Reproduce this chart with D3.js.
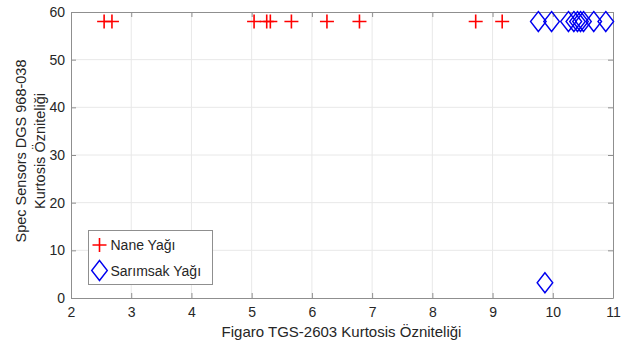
<!DOCTYPE html>
<html>
<head>
<meta charset="utf-8">
<script src="https://cdn.jsdelivr.net/npm/d3@7"></script>
<style>
  body { margin: 0; background: #fff; }
  svg text { font-family: "Liberation Sans", Arial, sans-serif; fill: #262626; }
</style>
</head>
<body>
<div id="chart"></div>
<script>
// Nane Yağı (peppermint) points
const naneX = [2.55, 2.68, 5.04, 5.25, 5.31, 5.66, 6.25, 6.79, 8.72, 9.16];
const naneY = [58, 58, 58, 58, 58, 58, 58, 58, 58, 58];
// Sarımsak Yağı (garlic) points
const sarimsakX = [9.76, 9.98, 10.26, 10.35, 10.41, 10.46, 10.51, 10.68, 10.88, 9.87];
const sarimsakY = [58, 58, 58, 58, 58, 58, 58, 58, 58, 3.2];

const xTicks = [2, 3, 4, 5, 6, 7, 8, 9, 10, 11];
const yTicks = [0, 10, 20, 30, 40, 50, 60];

const width = 637, height = 350;
const margin = { left: 71, right: 24, top: 12, bottom: 52 };

const svg = d3.select("#chart").append("svg")
    .attr("width", width)
    .attr("height", height);

const x = d3.scaleLinear().domain([2, 11]).range([margin.left, width - margin.right]);
const y = d3.scaleLinear().domain([0, 60]).range([height - margin.bottom, margin.top]);

const x0 = x.range()[0], x1 = x.range()[1];
const y0 = y.range()[0], y1 = y.range()[1];

// grid lines
svg.append("g").selectAll("line.gx")
    .data(xTicks.slice(1, -1))
    .enter().append("line")
    .attr("x1", d => x(d)).attr("x2", d => x(d))
    .attr("y1", y0).attr("y2", y1)
    .attr("stroke", "#e8e8e8").attr("stroke-width", 1);

svg.append("g").selectAll("line.gy")
    .data(yTicks.slice(1, -1))
    .enter().append("line")
    .attr("x1", x0).attr("x2", x1)
    .attr("y1", d => y(d)).attr("y2", d => y(d))
    .attr("stroke", "#e8e8e8").attr("stroke-width", 1);

// axes (MATLAB-style box with inward ticks)
const axisColor = "#8f8f8f";
const tickLen = 5;

const xAxis = svg.append("g").attr("transform", `translate(0,${y0})`)
    .call(d3.axisBottom(x).tickValues(xTicks).tickSizeInner(-tickLen).tickSizeOuter(0).tickPadding(9));
const yAxis = svg.append("g").attr("transform", `translate(${x0},0)`)
    .call(d3.axisLeft(y).tickValues(yTicks).tickSizeInner(-tickLen).tickSizeOuter(0).tickPadding(6));
const xTop = svg.append("g").attr("transform", `translate(0,${y1})`)
    .call(d3.axisTop(x).tickValues(xTicks).tickSizeInner(-tickLen).tickSizeOuter(0).tickFormat(""));
const yRight = svg.append("g").attr("transform", `translate(${x1},0)`)
    .call(d3.axisRight(y).tickValues(yTicks).tickSizeInner(-tickLen).tickSizeOuter(0).tickFormat(""));

[xAxis, yAxis, xTop, yRight].forEach(g => {
    g.selectAll("path").attr("stroke", axisColor);
    g.selectAll("line").attr("stroke", axisColor);
    g.selectAll("text").style("font-size", "14px").attr("fill", "#262626");
});

// axis labels
svg.append("text")
    .attr("x", 341.5)
    .attr("y", 337)
    .attr("text-anchor", "middle")
    .style("font-size", "15px")
    .text("Figaro TGS-2603 Kurtosis Özniteliği");

const yLab = svg.append("text")
    .attr("transform", `translate(26,151) rotate(-90)`)
    .attr("text-anchor", "middle")
    .style("font-size", "14.5px");
yLab.append("tspan").attr("x", 0).attr("dy", 0).text("Spec Sensors DGS 968-038");
yLab.append("tspan").attr("x", 0).attr("dy", 19).text("Kurtosis Özniteliği");

// markers
const red = "#ff0000", blue = "#0000f0";
const half = 7;

function plus(g, cx, cy) {
    g.append("path")
        .attr("d", `M${cx - half},${cy}H${cx + half}M${cx},${cy - half}V${cy + half}`)
        .attr("stroke", red).attr("stroke-width", 1.6).attr("fill", "none");
}
function diamond(g, cx, cy) {
    g.append("path")
        .attr("d", `M${cx},${cy - 10}L${cx + 7.8},${cy}L${cx},${cy + 10}L${cx - 7.8},${cy}Z`)
        .attr("stroke", blue).attr("stroke-width", 1.4).attr("fill", "none");
}

const marks = svg.append("g");
naneX.forEach((d, i) => plus(marks, x(d), y(naneY[i])));
sarimsakX.forEach((d, i) => diamond(marks, x(d), y(sarimsakY[i])));

// legend
const legend = svg.append("g");
legend.append("rect")
    .attr("x", 88.5).attr("y", 230.5)
    .attr("width", 124).attr("height", 54)
    .attr("fill", "#fff").attr("stroke", "#8f8f8f").attr("stroke-width", 1);
plus(legend, 99.5, 245);
diamond(legend, 99.5, 270.5);
legend.append("text").attr("x", 110.5).attr("y", 250).style("font-size", "14px").text("Nane Yağı");
legend.append("text").attr("x", 110.5).attr("y", 275.5).style("font-size", "14px").text("Sarımsak Yağı");
</script>
</body>
</html>
